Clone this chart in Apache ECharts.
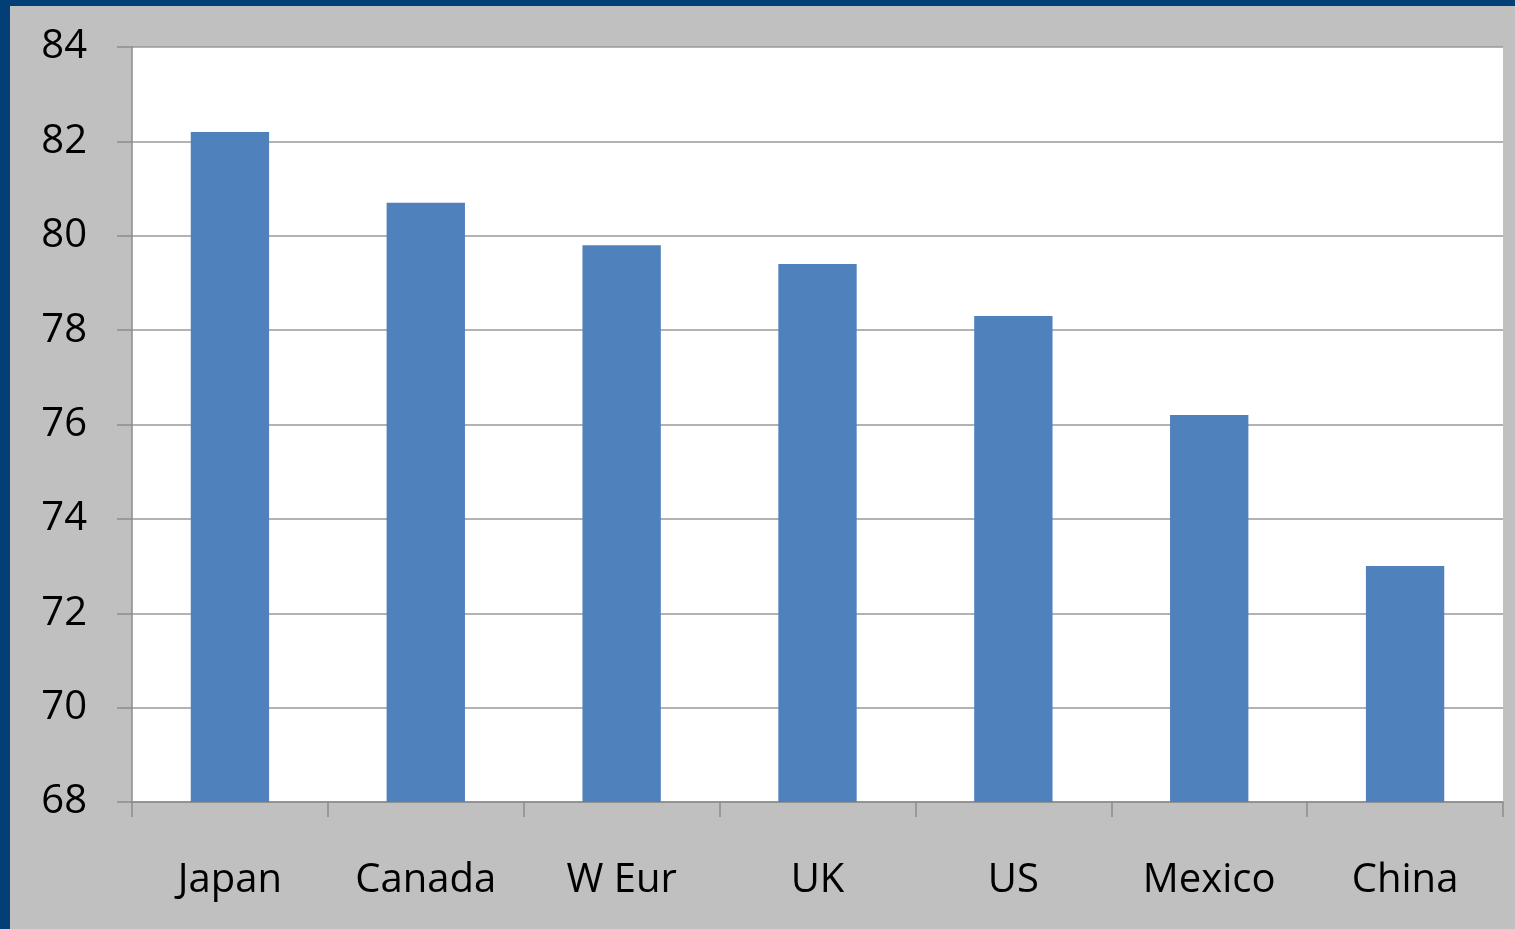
<!DOCTYPE html>
<html>
<head>
<meta charset="utf-8">
<script src="https://cdn.jsdelivr.net/npm/echarts@6/dist/echarts.min.js"></script>
<style>
  html, body { margin: 0; padding: 0; width: 1515px; height: 929px; background: #023f77; overflow: hidden; }
  #panel { position: absolute; left: 10px; top: 6px; width: 1505px; height: 923px; background: #c0c0c0; }
</style>
</head>
<body>
<div id="panel"></div>
<script>
// Life expectancy by country/region (years)
const categories = ['Japan', 'Canada', 'W Eur', 'UK', 'US', 'Mexico', 'China'];
const lifeExpectancy = [82.2, 80.7, 79.8, 79.4, 78.3, 76.2, 73.0];
const yMin = 68, yMax = 84, yStep = 2;

const chart = echarts.init(document.getElementById('panel'), null, { renderer: 'canvas' });
const fontFamily = '"Open Sans", "Noto Sans", sans-serif';

chart.setOption({
  backgroundColor: '#c0c0c0',
  animation: false,
  grid: {
    left: 122, top: 41, right: 12, bottom: 127,
    show: true, backgroundColor: '#ffffff', borderWidth: 0
  },
  xAxis: {
    type: 'category',
    data: categories,
    axisLine: { show: true, lineStyle: { color: '#8c8c8c', width: 1.5 } },
    axisTick: { show: true, length: 15, lineStyle: { color: '#8c8c8c', width: 1.5 } },
    axisLabel: { color: '#000', fontSize: 40, fontFamily, margin: 59 }
  },
  yAxis: {
    type: 'value',
    min: yMin, max: yMax, interval: yStep,
    axisLine: { show: true, lineStyle: { color: '#8c8c8c', width: 1.5 } },
    axisTick: { show: true, length: 15, lineStyle: { color: '#8c8c8c', width: 1.5 } },
    splitLine: { show: true, lineStyle: { color: '#999999', width: 1.5 } },
    axisLabel: { color: '#000', fontSize: 40, fontFamily, margin: 45, padding: [4, 0, 0, 0] }
  },
  series: [{
    type: 'bar',
    data: lifeExpectancy,
    barWidth: '40%',
    itemStyle: { color: '#4f81bd' }
  }]
});
</script>
</body>
</html>
